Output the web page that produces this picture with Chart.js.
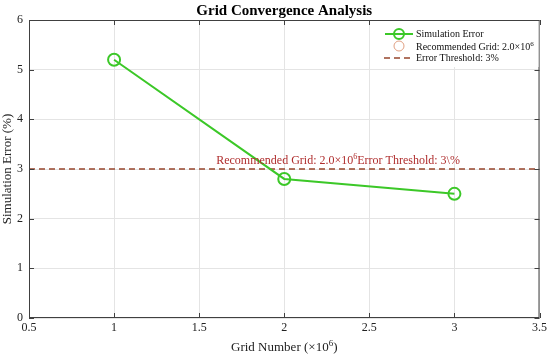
<!DOCTYPE html>
<html>
<head>
<meta charset="utf-8">
<script src="https://cdn.jsdelivr.net/npm/chart.js@4.4.1/dist/chart.umd.min.js"></script>
<style>
  html, body { margin: 0; padding: 0; background: #fff; }
  #c { display: block; }
</style>
</head>
<body>
<canvas id="c" width="550" height="355"></canvas>
<script>
const gridNumbers = [1, 2, 3];
const simErrors = [5.2, 2.8, 2.5];
const thresholdX = [0.5, 3.5];
const thresholdY = [3, 3];
const recommendedGrid = 2.0;
const xRange = [0.5, 3.5];
const yRange = [0, 6];

const FONT = '"Liberation Serif", "Times New Roman", serif';
const green = 'rgb(60, 200, 40)';
const dashColor = 'rgb(150, 70, 45)';
const textRed = 'rgb(175, 45, 45)';
const circleColor = 'rgb(225, 160, 130)';

// draws "base" + superscript "sup" + optional tail, returns end x
function supText(ctx, x, y, base, sup, size, tail) {
    ctx.font = `${size}px ${FONT}`;
    ctx.fillText(base, x, y);
    x += ctx.measureText(base).width;
    ctx.font = `${Math.round(size * 0.7)}px ${FONT}`;
    ctx.fillText(sup, x, y - size * 0.4);
    x += ctx.measureText(sup).width;
    if (tail) {
        ctx.font = `${size}px ${FONT}`;
        ctx.fillText(tail, x, y);
        x += ctx.measureText(tail).width;
    }
    return x;
}

const decorPlugin = {
    id: 'decor',
    afterDraw(chart) {
        const ctx = chart.ctx;
        const a = chart.chartArea;
        const xs = chart.scales.x;
        const ys = chart.scales.y;
        ctx.save();

        // box border + inward ticks
        ctx.strokeStyle = '#404040';
        ctx.lineWidth = 1;
        ctx.strokeRect(a.left + 0.5, a.top + 0.5, a.right - a.left - 1, a.bottom - a.top - 1);
        ctx.beginPath();
        xs.ticks.forEach(t => {
            const px = Math.round(xs.getPixelForValue(t.value)) + 0.5;
            ctx.moveTo(px, a.bottom); ctx.lineTo(px, a.bottom - 5);
            ctx.moveTo(px, a.top); ctx.lineTo(px, a.top + 5);
        });
        ys.ticks.forEach(t => {
            const py = Math.round(ys.getPixelForValue(t.value)) + 0.5;
            ctx.moveTo(a.left, py); ctx.lineTo(a.left + 5, py);
            ctx.moveTo(a.right, py); ctx.lineTo(a.right - 5, py);
        });
        ctx.stroke();

        // title
        ctx.fillStyle = '#000';
        ctx.font = `bold 15px ${FONT}`;
        ctx.textAlign = 'center';
        ctx.textBaseline = 'alphabetic';
        ctx.fillText('Grid Convergence Analysis', (a.left + a.right) / 2, 15);

        // x axis title
        ctx.textAlign = 'left';
        ctx.fillStyle = '#222';
        ctx.font = `13px ${FONT}`;
        const w1 = ctx.measureText('Grid Number (×10').width;
        const w2 = ctx.measureText(')').width;
        ctx.font = `9px ${FONT}`;
        const ws = ctx.measureText('6').width;
        const tx = (a.left + a.right) / 2 - (w1 + ws + w2) / 2;
        supText(ctx, tx, 351, 'Grid Number (×10', '6', 13, ')');

        // annotation text above threshold line
        ctx.fillStyle = textRed;
        const ax = xs.getPixelForValue(1.6);
        const ay = ys.getPixelForValue(thresholdY[0]) - 5;
        const endX = supText(ctx, ax, ay, 'Recommended Grid: ' + recommendedGrid.toFixed(1) + '×10', '6', 12);
        ctx.font = `12px ${FONT}`;
        ctx.fillText('Error Threshold: 3\\%', endX, ay);

        // legend
        const lx = 381, ly = 21;
        ctx.fillStyle = '#fff';
        ctx.fillRect(lx, ly, a.right - lx - 1, 46);
        ctx.fillStyle = '#111';
        ctx.font = `10px ${FONT}`;
        ctx.textBaseline = 'middle';
        // row 1
        let ry = 34;
        ctx.strokeStyle = green;
        ctx.lineWidth = 2;
        ctx.beginPath(); ctx.moveTo(385, ry); ctx.lineTo(413, ry); ctx.stroke();
        ctx.beginPath(); ctx.arc(399, ry, 5, 0, Math.PI * 2); ctx.stroke();
        ctx.fillText('Simulation Error', 416, ry);
        // row 2
        ry = 46;
        ctx.strokeStyle = circleColor;
        ctx.lineWidth = 1;
        ctx.beginPath(); ctx.arc(399, ry, 5, 0, Math.PI * 2); ctx.stroke();
        ctx.textBaseline = 'alphabetic';
        supText(ctx, 416, ry + 4, 'Recommended Grid: 2.0×10', '6', 10);
        // row 3
        ry = 58;
        ctx.strokeStyle = dashColor;
        ctx.lineWidth = 1.5;
        ctx.setLineDash([6, 4]);
        ctx.beginPath(); ctx.moveTo(384, ry); ctx.lineTo(414, ry); ctx.stroke();
        ctx.setLineDash([]);
        ctx.font = `10px ${FONT}`;
        ctx.textBaseline = 'middle';
        ctx.fillText('Error Threshold: 3%', 416, ry);

        ctx.restore();
    }
};

new Chart(document.getElementById('c'), {
    type: 'scatter',
    plugins: [decorPlugin],
    data: {
        datasets: [
            {
                label: 'Error Threshold: 3%',
                data: thresholdX.map((x, i) => ({ x, y: thresholdY[i] })),
                showLine: true,
                borderColor: dashColor,
                borderWidth: 1.5,
                borderDash: [6, 4],
                pointRadius: 0,
                order: 2
            },
            {
                label: 'Simulation Error',
                data: gridNumbers.map((x, i) => ({ x, y: simErrors[i] })),
                showLine: true,
                borderColor: green,
                borderWidth: 2,
                pointRadius: 6,
                pointBorderWidth: 2,
                pointBorderColor: green,
                pointBackgroundColor: 'rgba(0,0,0,0)',
                order: 1
            },
            {
                label: 'Recommended Grid: 2.0×10⁶',
                data: [],
                borderColor: circleColor,
                pointRadius: 5
            }
        ]
    },
    options: {
        responsive: false,
        animation: false,
        layout: { padding: { top: 20, right: 9, left: 0, bottom: 0 } },
        plugins: {
            legend: { display: false },
            tooltip: { enabled: false }
        },
        scales: {
            x: {
                type: 'linear',
                min: xRange[0],
                max: xRange[1],
                afterFit: s => { s.height = 37; },
                grid: { color: '#e4e4e4', drawTicks: false },
                border: { display: false },
                ticks: {
                    stepSize: 0.5,
                    padding: 3,
                    color: '#222',
                    font: { family: FONT, size: 12 },
                    callback: v => String(Number(v))
                }
            },
            y: {
                min: yRange[0],
                max: yRange[1],
                afterFit: s => { s.width = 29; },
                grid: { color: '#e4e4e4', drawTicks: false },
                border: { display: false },
                ticks: {
                    stepSize: 1,
                    padding: 6,
                    color: '#222',
                    font: { family: FONT, size: 12 }
                },
                title: {
                    display: true,
                    text: 'Simulation Error (%)',
                    color: '#222',
                    font: { family: FONT, size: 13 },
                    padding: { top: 0, bottom: 0 }
                }
            }
        }
    }
});
</script>
</body>
</html>
